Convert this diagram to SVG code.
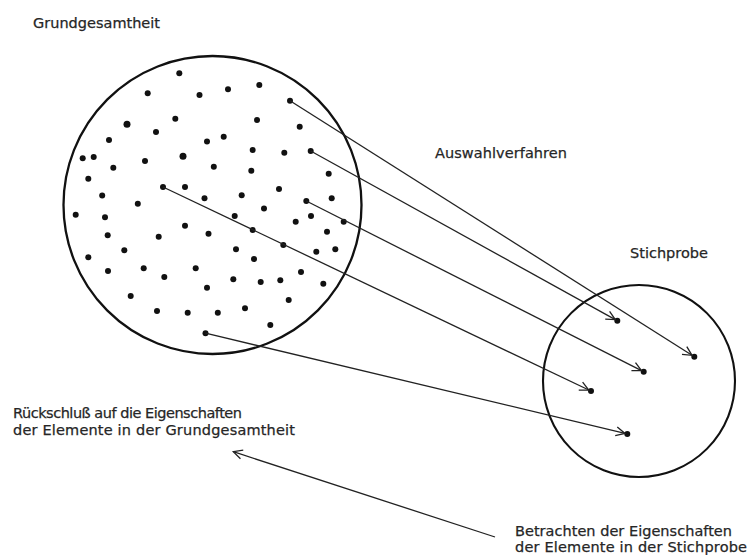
<svg xmlns="http://www.w3.org/2000/svg" width="750" height="555" viewBox="0 0 750 555">
<style>
.lbl{font-family:"DejaVu Sans",Verdana,sans-serif;font-size:14.5px;fill:#262626;stroke:#262626;stroke-width:0.25}
.circ{fill:none;stroke:#111;stroke-width:2.3}
.dot{fill:#111}
.con{fill:none;stroke:#222;stroke-width:1.3;marker-end:url(#arr)}
</style>
<defs>
<marker id="arr" viewBox="0 0 12 12" refX="11" refY="6" markerWidth="12" markerHeight="12" markerUnits="userSpaceOnUse" orient="auto">
<path d="M2,1.5 L11,6 L2,10.5" fill="none" stroke="#222" stroke-width="1.3"/>
</marker>
</defs>
<rect width="750" height="555" fill="#fff"/>
<g id="grundgesamtheit">
<circle class="circ" cx="212.5" cy="205" r="149"/>
<g>
<circle class="dot" cx="179.3" cy="73.3" r="3"/>
<circle class="dot" cx="147.7" cy="93.3" r="3"/>
<circle class="dot" cx="199.5" cy="95" r="3"/>
<circle class="dot" cx="228" cy="89.3" r="3"/>
<circle class="dot" cx="259.3" cy="85" r="3"/>
<circle class="dot" cx="290" cy="100.7" r="3"/>
<circle class="dot" cx="175.3" cy="118.7" r="3"/>
<circle class="dot" cx="127" cy="124.3" r="3.5"/>
<circle class="dot" cx="156" cy="132" r="3"/>
<circle class="dot" cx="207" cy="141.5" r="3"/>
<circle class="dot" cx="109" cy="140" r="3"/>
<circle class="dot" cx="82.7" cy="158.3" r="3"/>
<circle class="dot" cx="93.7" cy="157" r="3"/>
<circle class="dot" cx="145" cy="161" r="3"/>
<circle class="dot" cx="183" cy="156.3" r="3.5"/>
<circle class="dot" cx="213.8" cy="166.7" r="3"/>
<circle class="dot" cx="113.3" cy="167.7" r="3"/>
<circle class="dot" cx="88.3" cy="178.7" r="3"/>
<circle class="dot" cx="163" cy="187" r="3"/>
<circle class="dot" cx="185" cy="187" r="3"/>
<circle class="dot" cx="204.5" cy="198.2" r="3"/>
<circle class="dot" cx="102.2" cy="195.5" r="3"/>
<circle class="dot" cx="137.8" cy="203.8" r="3"/>
<circle class="dot" cx="257" cy="120" r="3"/>
<circle class="dot" cx="299.7" cy="126.7" r="3"/>
<circle class="dot" cx="223.7" cy="136.7" r="3"/>
<circle class="dot" cx="252.7" cy="150" r="3"/>
<circle class="dot" cx="284.3" cy="152.7" r="3"/>
<circle class="dot" cx="310.7" cy="151" r="3"/>
<circle class="dot" cx="251.3" cy="170.7" r="3"/>
<circle class="dot" cx="328.7" cy="173.7" r="3"/>
<circle class="dot" cx="279" cy="189" r="3"/>
<circle class="dot" cx="241.7" cy="195.3" r="3"/>
<circle class="dot" cx="306.3" cy="201" r="3"/>
<circle class="dot" cx="331.7" cy="198.2" r="3"/>
<circle class="dot" cx="264" cy="208.5" r="3"/>
<circle class="dot" cx="75.7" cy="214.7" r="3"/>
<circle class="dot" cx="105" cy="217.3" r="3"/>
<circle class="dot" cx="185" cy="225.7" r="3"/>
<circle class="dot" cx="208.5" cy="233.8" r="3"/>
<circle class="dot" cx="107.7" cy="235.3" r="3"/>
<circle class="dot" cx="158.7" cy="236.7" r="3"/>
<circle class="dot" cx="124.3" cy="250.3" r="3"/>
<circle class="dot" cx="88.3" cy="257.3" r="3"/>
<circle class="dot" cx="108" cy="271" r="3"/>
<circle class="dot" cx="143.7" cy="268.3" r="3"/>
<circle class="dot" cx="164.3" cy="277" r="3"/>
<circle class="dot" cx="195.7" cy="268.3" r="3"/>
<circle class="dot" cx="207" cy="287.7" r="3"/>
<circle class="dot" cx="130.7" cy="296" r="3"/>
<circle class="dot" cx="157" cy="311" r="3"/>
<circle class="dot" cx="187.7" cy="312.7" r="3"/>
<circle class="dot" cx="217.8" cy="312.7" r="3"/>
<circle class="dot" cx="205.5" cy="333.2" r="3"/>
<circle class="dot" cx="234.7" cy="216" r="3"/>
<circle class="dot" cx="295.7" cy="221.7" r="3"/>
<circle class="dot" cx="311" cy="216" r="3"/>
<circle class="dot" cx="343.7" cy="221.7" r="3"/>
<circle class="dot" cx="252.7" cy="230" r="3"/>
<circle class="dot" cx="283.3" cy="245" r="3"/>
<circle class="dot" cx="327" cy="231.7" r="3"/>
<circle class="dot" cx="236" cy="249.3" r="3"/>
<circle class="dot" cx="254" cy="259" r="3"/>
<circle class="dot" cx="316.3" cy="251.7" r="3"/>
<circle class="dot" cx="335.3" cy="249.3" r="3"/>
<circle class="dot" cx="301" cy="272" r="3"/>
<circle class="dot" cx="233.3" cy="279.3" r="3"/>
<circle class="dot" cx="260.7" cy="282" r="3"/>
<circle class="dot" cx="280.3" cy="280.3" r="3"/>
<circle class="dot" cx="323.3" cy="283.7" r="3"/>
<circle class="dot" cx="288.7" cy="300" r="3"/>
<circle class="dot" cx="245" cy="308.3" r="3"/>
<circle class="dot" cx="270.3" cy="325" r="3"/>
</g>
</g>
<g id="stichprobe">
<circle class="circ" cx="639" cy="381" r="96" style="stroke-width:2.1"/>
<circle class="dot" cx="617.3" cy="320.7" r="3"/>
<circle class="dot" cx="694.3" cy="356.7" r="3"/>
<circle class="dot" cx="643.7" cy="371.7" r="3"/>
<circle class="dot" cx="591" cy="391" r="3"/>
<circle class="dot" cx="627.3" cy="434" r="3"/>
</g>
<g id="connectors">
<line class="con" x1="290" y1="100.7" x2="692" y2="355.3"/>
<line class="con" x1="310.7" y1="151" x2="615.3" y2="319.6"/>
<line class="con" x1="306.3" y1="201" x2="641.5" y2="370.6"/>
<line class="con" x1="163" y1="187" x2="588.8" y2="390"/>
<line class="con" x1="205.5" y1="333.2" x2="625" y2="433.4"/>
<line class="con" x1="495" y1="537" x2="233.3" y2="451.7"/>
</g>
<g id="labels">
<text class="lbl" x="33" y="28" textLength="127" lengthAdjust="spacing">Grundgesamtheit</text>
<text class="lbl" x="435" y="158" textLength="132" lengthAdjust="spacing">Auswahlverfahren</text>
<text class="lbl" x="630" y="257.5" textLength="78" lengthAdjust="spacing">Stichprobe</text>
<text class="lbl" x="13" y="418" textLength="229" lengthAdjust="spacing">Rückschluß auf die Eigenschaften</text>
<text class="lbl" x="13" y="435" textLength="282" lengthAdjust="spacing">der Elemente in der Grundgesamtheit</text>
<text class="lbl" x="515" y="536" textLength="217" lengthAdjust="spacing">Betrachten der Eigenschaften</text>
<text class="lbl" x="515" y="552" textLength="232" lengthAdjust="spacing">der Elemente in der Stichprobe</text>
</g>
</svg>
